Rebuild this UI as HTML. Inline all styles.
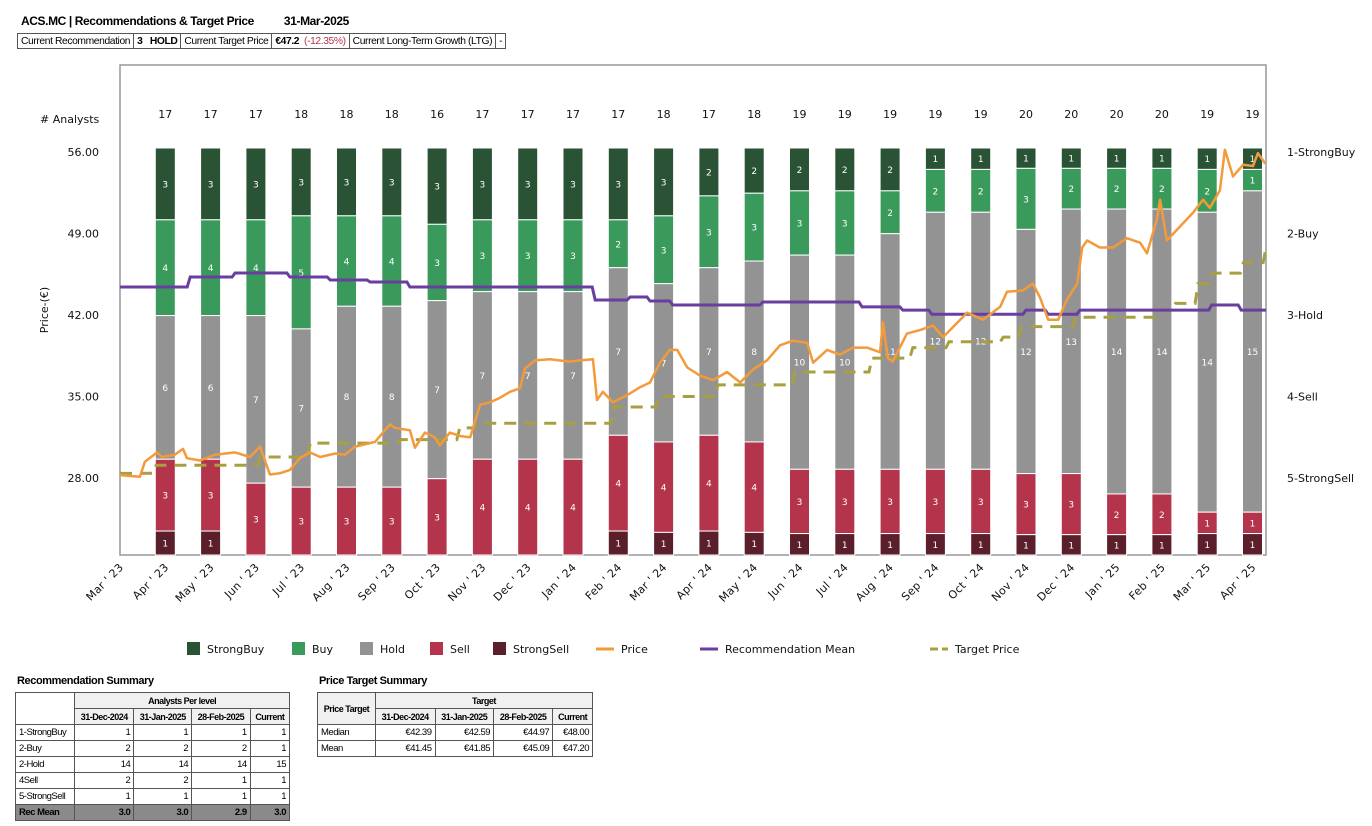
<!DOCTYPE html>
<html><head><meta charset="utf-8">
<style>
body{margin:0;width:1372px;height:826px;background:#fff;font-family:"Liberation Sans",sans-serif;position:relative;overflow:hidden}
.title{position:absolute;left:21px;top:14px;font-size:12px;font-weight:bold;letter-spacing:-0.4px}
table{border-collapse:collapse;position:absolute;font-size:9.5px;letter-spacing:-0.5px}
td,th{border:1px solid #555;padding:0 3px;height:15px;white-space:nowrap}
.info{left:17px;top:33px;font-size:10.3px;letter-spacing:-0.4px}
.info td{height:14px}
.t2{position:absolute;font-size:11px;font-weight:bold;letter-spacing:-0.4px}
.rs{left:15px;top:692px;width:275px}
.rs td{text-align:right}
.rs td:first-child{text-align:left}
.rs th{background:#f0f0f0;font-size:9px}
.rs tr.mean td{background:#8a8a8a;font-weight:bold}
.pt{left:317px;top:692px;width:276px}
.pt td{text-align:right}
.pt td:first-child{text-align:left}
.pt th{background:#f0f0f0;font-size:9px}
</style></head><body>
<div class="title">ACS.MC | Recommendations &amp; Target Price<span style="margin-left:30px">31-Mar-2025</span></div>
<table class="info"><tr>
<td>Current Recommendation</td><td><b>3 &nbsp;&nbsp;HOLD</b></td><td>Current Target Price</td><td><b>€47.2</b> &nbsp;<span style="color:#b3344b">(-12.35%)</span></td><td>Current Long-Term Growth (LTG)</td><td>-</td></tr></table>

<svg id="chart" width="1372" height="670" style="position:absolute;left:0;top:0" font-family="DejaVu Sans, sans-serif"></svg>

<div class="t2" style="left:17px;top:675px">Recommendation Summary</div>
<table class="rs">
<tr><th rowspan="2" style="background:#fff"></th><th colspan="4">Analysts Per level</th></tr>
<tr><th>31-Dec-2024</th><th>31-Jan-2025</th><th>28-Feb-2025</th><th>Current</th></tr>
<tr><td>1-StrongBuy</td><td>1</td><td>1</td><td>1</td><td>1</td></tr>
<tr><td>2-Buy</td><td>2</td><td>2</td><td>2</td><td>1</td></tr>
<tr><td>2-Hold</td><td>14</td><td>14</td><td>14</td><td>15</td></tr>
<tr><td>4Sell</td><td>2</td><td>2</td><td>1</td><td>1</td></tr>
<tr><td>5-StrongSell</td><td>1</td><td>1</td><td>1</td><td>1</td></tr>
<tr class="mean"><td>Rec Mean</td><td>3.0</td><td>3.0</td><td>2.9</td><td>3.0</td></tr>
</table>
<div class="t2" style="left:319px;top:675px">Price Target Summary</div>
<table class="pt">
<tr><th rowspan="2">Price Target</th><th colspan="4">Target</th></tr>
<tr><th>31-Dec-2024</th><th>31-Jan-2025</th><th>28-Feb-2025</th><th>Current</th></tr>
<tr><td>Median</td><td>€42.39</td><td>€42.59</td><td>€44.97</td><td>€48.00</td></tr>
<tr><td>Mean</td><td>€41.45</td><td>€41.85</td><td>€45.09</td><td>€47.20</td></tr>
</table>

<script>
const months=["Mar ' 23","Apr ' 23","May ' 23","Jun ' 23","Jul ' 23","Aug ' 23","Sep ' 23","Oct ' 23","Nov ' 23","Dec ' 23","Jan ' 24","Feb ' 24","Mar ' 24","Apr ' 24","May ' 24","Jun ' 24","Jul ' 24","Aug ' 24","Sep ' 24","Oct ' 24","Nov ' 24","Dec ' 24","Jan ' 25","Feb ' 25","Mar ' 25","Apr ' 25"];
const strongBuy=[3,3,3,3,3,3,3,3,3,3,3,3,2,2,2,2,2,1,1,1,1,1,1,1,1];
const buy=[4,4,4,5,4,4,3,3,3,3,2,3,3,3,3,3,2,2,2,3,2,2,2,2,1];
const hold=[6,6,7,7,8,8,7,7,7,7,7,7,7,8,10,10,11,12,12,12,13,14,14,14,15];
const sell=[3,3,3,3,3,3,3,4,4,4,4,4,4,4,3,3,3,3,3,3,3,2,2,1,1];
const strongSell=[1,1,0,0,0,0,0,0,0,0,1,1,1,1,1,1,1,1,1,1,1,1,1,1,1];
const priceTicks=[28,35,42,49,56];
const recTicks=["1-StrongBuy","2-Buy","3-Hold","4-Sell","5-StrongSell"];
const priceT=[0,.44,.55,.82,.93,1.21,1.39,1.48,1.77,2.1,2.54,2.87,3.09,3.31,3.53,3.75,3.97,4.19,4.42,4.75,4.97,5.19,5.63,5.96,6.07,6.4,6.51,6.73,6.95,7.06,7.28,7.51,7.73,7.95,8.17,8.39,8.61,8.83,8.94,9.16,9.49,9.93,10.15,10.44,10.53,10.66,10.88,11.19,11.48,11.7,11.92,12.14,12.3,12.52,12.8,13.09,13.4,13.69,13.97,14.28,14.57,14.86,15.17,15.3,15.61,15.89,16.18,16.49,16.78,16.84,16.95,17.06,17.37,17.66,17.95,18.17,18.7,19.05,19.43,19.58,19.93,20.15,20.31,20.49,20.71,20.9,21.13,21.24,21.35,21.63,21.92,22.23,22.52,22.67,22.89,22.96,23.11,23.4,23.69,23.91,24.06,24.28,24.39,24.57,24.79,25.01,25.12,25.28];
const priceV=[28.25,28.1,29.4,30.2,29.8,30,30.5,29.7,29.5,30,30.2,29.8,30.7,28.3,28.4,28.7,29.7,30.2,29.8,30.1,30,30.7,31.1,32.6,32.3,32.1,30.6,31.9,31.5,30.8,31.9,31.6,31.5,34.3,34.5,34.9,35.4,35.7,37.4,38.1,38.2,38,38.1,38.2,34.7,35.4,34.5,35.1,35.8,36.2,37.9,39,39,37.5,36.8,36.4,37.1,36.2,37.3,38.1,39.4,39.8,39.6,37.9,39,38.6,39.2,39.2,38.8,41.4,38.3,38,40.4,40.7,41.1,40.1,42.2,41.6,42.7,44,44.1,44.7,43.5,41.6,41.6,43.3,44.7,47.8,48.4,47.8,47.8,48.6,48.2,47.3,50.2,51.9,48.4,49.6,50.8,51.9,51.2,52.7,56.2,53.9,54.9,54.8,55.9,55];
const recT=[0,1.55,2.54,3.75,4.64,5.52,6.4,10.49,11.26,11.7,12.2,14.19,16.38,17.28,17.92,20,20.49,21.19,24.1,24.75,25.3];
const recV=[2.656,2.534,2.485,2.534,2.57,2.595,2.656,2.816,2.779,2.828,2.877,2.84,2.9,2.94,2.99,2.94,2.99,2.94,2.877,2.94,2.94];
const tgtT=[0,0.8,3.1,4.2,6.2,7.5,7.9,10.9,11.9,13.2,14.9,16.6,17.5,18.3,19.5,19.9,21.1,22.9,23.3,23.8,24.1,24.8,25.3];
const tgtV=[28.4,29.1,29.8,31,31.3,32.3,32.7,34.1,35,36,37.1,38.3,39.2,39.7,40.1,41,41.8,42.4,43,44.7,45.6,46.5,47.8];

const svg=document.getElementById('chart');
const NS='http://www.w3.org/2000/svg';
function mk(tag,attrs,parent){const e=document.createElementNS(NS,tag);for(const k in attrs)e.setAttribute(k,attrs[k]);(parent||svg).appendChild(e);return e;}
const L=120,R=1266,T=65,B=555,BT=148;
const X=i=>L+i*45.3;
const Yp=p=>152+(56-p)*(326/28);
const Yr=v=>152+(v-1)*81.5;
const cols=["#2a5234","#3a9a5c","#939393","#b3344b","#5b1f2c"];

let e=mk('rect',{x:L,y:T,width:R-L,height:B-T,fill:'none',stroke:'#999','stroke-width':1.5});



const series=[strongBuy,buy,hold,sell,strongSell];
for(let b=0;b<strongBuy.length;b++){
  const n=series.reduce((s,a)=>s+a[b],0);
  const unit=(B-BT)/n;
  let y=BT;
  const cx=X(b+1);
  const g=mk('g',{});
  
  
  series.forEach((s,k)=>{
    const v=s[b]; if(!v) return;
    const h=v*unit;
    const r=mk('rect',{x:cx-10,y:y,width:20,height:h,fill:cols[k],stroke:'#fff','stroke-width':1},g);
    
    
    const t=mk('text',{x:cx,y:y+h/2+3.5,'font-size':9,fill:'#fff','text-anchor':'middle'},g);
    
    
    t.textContent=v;
    y+=h;
  });
  const c=mk('text',{x:cx,y:118,'font-size':11,fill:'#111','text-anchor':'middle'});
  
  
  c.textContent=n;
}
function pathFrom(ts,vs,yf){return ts.map((t,i)=>(i?'L':'M')+X(t).toFixed(1)+','+yf(vs[i]).toFixed(1)).join(' ');}
function stepFrom(ts,vs,yf){let d='M'+X(ts[0])+','+yf(vs[0]);for(let i=1;i<ts.length;i++){d+=' L'+(X(ts[i])-3).toFixed(1)+','+yf(vs[i-1]).toFixed(1)+' L'+X(ts[i]).toFixed(1)+','+yf(vs[i]).toFixed(1);}return d;}
e=mk('path',{d:stepFrom(tgtT,tgtV,Yp),fill:'none',stroke:'#a8a040','stroke-width':3,'stroke-dasharray':'12,8'});


e=mk('path',{d:stepFrom(recT,recV,Yr),fill:'none',stroke:'#6a3ea1','stroke-width':3});


e=mk('path',{d:pathFrom(priceT,priceV,Yp),fill:'none',stroke:'#f39a3a','stroke-width':2.5,'stroke-linejoin':'round'});



priceTicks.forEach(p=>{const t=mk('text',{x:99,y:Yp(p)+4,'font-size':11,'text-anchor':'end',fill:'#111'});


t.textContent=p.toFixed(2);});
recTicks.forEach((r,i)=>{const t=mk('text',{x:1287,y:Yr(i+1)+4,'font-size':11,fill:'#111'});


t.textContent=r;});
months.forEach((m,i)=>{const t=mk('text',{x:0,y:0,'font-size':11,'text-anchor':'end',fill:'#111','letter-spacing':'0.3',transform:'translate('+(X(i)+4)+',568) rotate(-45)'});


t.textContent=m;});
e=mk('text',{x:40,y:123,'font-size':11,fill:'#111'});


e.textContent='# Analysts';
e=mk('text',{x:0,y:0,'font-size':11,'text-anchor':'middle',fill:'#111',transform:'translate(48,310) rotate(-90)'});


e.textContent='Price-(€)';

const legItems=[["StrongBuy",187,'box',cols[0]],["Buy",292,'box',cols[1]],["Hold",360,'box',cols[2]],["Sell",430,'box',cols[3]],["StrongSell",493,'box',cols[4]],["Price",596,'line','#f39a3a'],["Recommendation Mean",700,'line','#6a3ea1'],["Target Price",930,'dash','#a8a040']];
legItems.forEach(([name,x,kind,c])=>{
  const g=mk('g',{});
  
  
  let tx;
  if(kind==='box'){mk('rect',{x:x,y:642,width:13,height:13,fill:c},g);tx=x+20;}
  else{mk('line',{x1:x,y1:649,x2:x+18,y2:649,stroke:c,'stroke-width':3,'stroke-dasharray':kind==='dash'?'8,4':'none'},g);tx=x+25;}
  const t=mk('text',{x:tx,y:653,'font-size':11,fill:'#111'},g);
  t.textContent=name;
});
</script>
</body></html>
